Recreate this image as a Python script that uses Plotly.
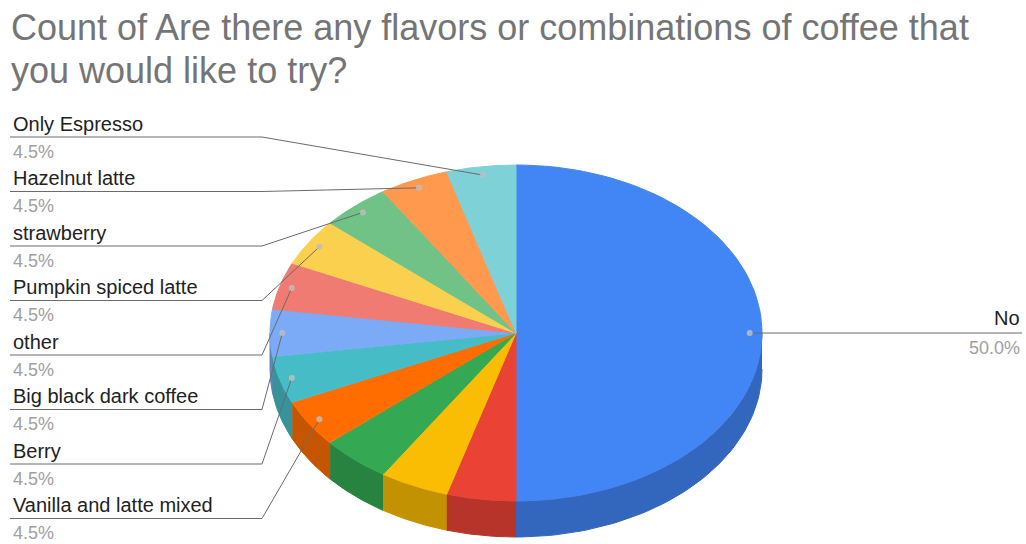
import numpy as np
import plotly.graph_objects as go

# Survey answers and their counts
categories = [
    "No", "Answer A", "Answer B", "Answer C", "Vanilla and latte mixed", "Berry",
    "Big black dark coffee", "other", "Pumpkin spiced latte", "strawberry",
    "Hazelnut latte", "Only Espresso",
]
counts = [11, 1, 1, 1, 1, 1, 1, 1, 1, 1, 1, 1]
labeled = [True, False, False, False, True, True, True, True, True, True, True, True]
colors = [
    "#4285f4", "#ea4335", "#fbbc04", "#34a853", "#ff6d01", "#46bdc6",
    "#7baaf7", "#f07b72", "#fcd04f", "#71c287", "#ff994d", "#7ed1d7",
]
title_lines = [
    "Count of Are there any flavors or combinations of coffee that",
    "you would like to try?",
]

# Canvas and pie geometry (pixels)
W, H = 1026, 544
CX, CY = 516, 333
RX, RY = 246, 168
DEPTH = 36
ANCHOR_R = 0.95
FONT = "Liberation Sans, Arial, sans-serif"


def darker(hex_color, k=0.78):
    h = hex_color.lstrip("#")
    r, g, b = (int(h[i:i + 2], 16) for i in (0, 2, 4))
    return "rgb({},{},{})".format(int(r * k), int(g * k), int(b * k))


def ellipse_pt(theta_deg, scale=1.0):
    t = np.radians(theta_deg)
    return CX + RX * scale * np.sin(t), CY - RY * scale * np.cos(t)


total = sum(counts)
fracs = np.array(counts) / total
ends = np.cumsum(fracs) * 360.0
starts = ends - fracs * 360.0

fig = go.Figure()

# Side walls of the front half of the disc
for a, b, c in zip(starts, ends, colors):
    lo, hi = max(a, 90.0), min(b, 270.0)
    if hi <= lo:
        continue
    th = np.linspace(lo, hi, 60)
    xt, yt = ellipse_pt(th)
    xs = np.concatenate([xt, xt[::-1]])
    ys = np.concatenate([yt, yt[::-1] + DEPTH])
    fig.add_trace(go.Scatter(
        x=xs, y=ys, mode="lines", fill="toself", fillcolor=darker(c),
        line=dict(color=darker(c), width=1), hoverinfo="skip",
    ))

# Top face slices
for name, a, b, c, v in zip(categories, starts, ends, colors, counts):
    th = np.linspace(a, b, 80)
    xt, yt = ellipse_pt(th)
    xs = np.concatenate([[CX], xt, [CX]])
    ys = np.concatenate([[CY], yt, [CY]])
    fig.add_trace(go.Scatter(
        x=xs, y=ys, mode="lines", fill="toself", fillcolor=c,
        line=dict(color=c, width=1), hoveron="fills",
        name=name, text="{}: {}".format(name, v), hoverinfo="text",
    ))

# Labels with leader lines
annotations = []
left_items, right_items = [], []
for i, (name, a, b, v, show) in enumerate(zip(categories, starts, ends, counts, labeled)):
    if not show:
        continue
    ax, ay = ellipse_pt((a + b) / 2.0, ANCHOR_R)
    pct = "{:.1f}%".format(v / total * 100)
    (right_items if ax > CX else left_items).append((ay, ax, name, pct))

left_items.sort()
SLOT0, SLOT_STEP, ELBOW_X = 123.5, 54.5, 262
for k, (ay, ax, name, pct) in enumerate(left_items):
    ny = SLOT0 + k * SLOT_STEP
    uy = ny + 13.5
    fig.add_trace(go.Scatter(
        x=[10, ELBOW_X, ax], y=[uy, uy, ay], mode="lines",
        line=dict(color="#6b6b6b", width=1), hoverinfo="skip",
    ))
    fig.add_trace(go.Scatter(
        x=[ax], y=[ay], mode="markers",
        marker=dict(size=6, color="rgba(190,190,190,0.85)"), hoverinfo="skip",
    ))
    annotations.append(dict(x=11, y=ny, text=name, xanchor="left", yanchor="middle",
                            showarrow=False, font=dict(family=FONT, size=20, color="#222222")))
    annotations.append(dict(x=11, y=ny + 28, text=pct, xanchor="left", yanchor="middle",
                            showarrow=False, font=dict(family=FONT, size=18, color="#a0a0a0")))

for ay, ax, name, pct in right_items:
    fig.add_trace(go.Scatter(
        x=[ax, 1022], y=[ay, ay], mode="lines",
        line=dict(color="#6b6b6b", width=1), hoverinfo="skip",
    ))
    fig.add_trace(go.Scatter(
        x=[ax], y=[ay], mode="markers",
        marker=dict(size=6, color="rgba(190,190,190,0.85)"), hoverinfo="skip",
    ))
    annotations.append(dict(x=1022, y=ay - 15, text=name, xanchor="right", yanchor="middle",
                            showarrow=False, font=dict(family=FONT, size=20, color="#222222")))
    annotations.append(dict(x=1022, y=ay + 15, text=pct, xanchor="right", yanchor="middle",
                            showarrow=False, font=dict(family=FONT, size=18, color="#a0a0a0")))

# Two-line title
for k, line in enumerate(title_lines):
    annotations.append(dict(x=9, y=27 + k * 43, text=line, xanchor="left", yanchor="middle",
                            showarrow=False, font=dict(family=FONT, size=36, color="#757575")))

fig.update_layout(
    width=W, height=H, margin=dict(l=0, r=0, t=0, b=0),
    paper_bgcolor="white", plot_bgcolor="white", showlegend=False,
    xaxis=dict(range=[0, W], visible=False, fixedrange=True),
    yaxis=dict(range=[H, 0], visible=False, fixedrange=True),
    annotations=annotations,
)

fig.write_html("out.html")
